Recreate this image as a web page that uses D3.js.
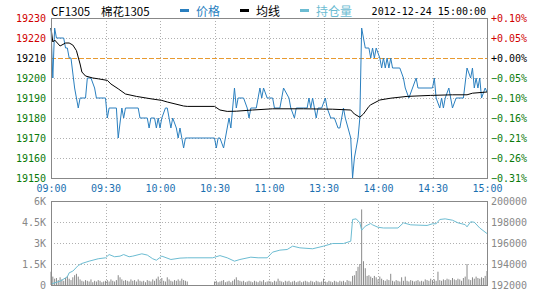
<!DOCTYPE html>
<html>
<head>
<meta charset="utf-8">
<script src="https://cdn.jsdelivr.net/npm/d3@7"></script>
<style>
  body { margin: 0; background: #fff; }
  text { font-family: "DejaVu Sans Mono", monospace; font-size: 10px; }
</style>
</head>
<body>
<svg id="chart" width="540" height="300"></svg>
<script>
// minutes since 09:00, trading time only (11:30 joins 13:30 at minute 150)
const timeTicks  = [0, 30, 60, 90, 120, 150, 180, 210, 240];
const timeLabels = ["09:00","09:30","10:00","10:30","11:00","13:30","14:00","14:30","15:00"];

const prevSettle = 19210;
const priceTicks = [19230, 19220, 19210, 19200, 19190, 19180, 19170, 19160, 19150];

// price series [minute, price]
const priceData = [
  [0,19225],[1,19200],[2,19225],[3,19220],[7,19220],[8,19215],[9,19215],[10,19210],[11,19210],
  [13,19195],[14,19190],[15,19185],[16,19190],[19,19190],[20,19200],[22,19200],[24,19195],[25,19190],
  [30,19190],[31,19180],[32,19185],[36,19185],[37,19170],[39,19185],[40,19180],[41,19185],[48,19185],
  [49,19180],[53,19180],[54,19175],[55,19180],[57,19180],[58,19175],[59,19180],[60,19175],[61,19180],
  [63,19185],[64,19185],[66,19175],[67,19180],[69,19175],[70,19170],[71,19175],[72,19170],[73,19165],
  [74,19170],[90,19170],[91,19165],[92,19170],[93,19170],[95,19165],[96,19170],[97,19175],[98,19180],
  [99,19175],[100,19185],[101,19195],[102,19185],[103,19190],[106,19190],[108,19185],[109,19180],
  [110,19185],[113,19185],[115,19195],[116,19190],[117,19195],[119,19190],[122,19190],[123,19185],
  [126,19185],[128,19195],[131,19190],[132,19185],[134,19180],[135,19185],[141,19185],[142,19190],
  [143,19185],[144,19190],[145,19185],[146,19180],[147,19185],[149,19185],[151,19190],[152,19185],
  [154,19180],[156,19180],[158,19175],[159,19175],[161,19185],[162,19180],[165,19170],[166,19150],
  [167,19160],[169,19170],[170,19180],[171,19225],[172,19220],[173,19215],[175,19215],[176,19210],
  [177,19215],[178,19210],[179,19215],[181,19210],[182,19205],[183,19210],[184,19205],[185,19210],
  [186,19205],[187,19210],[188,19205],[192,19205],[194,19200],[195,19195],[197,19190],[199,19195],
  [201,19200],[202,19195],[210,19195],[211,19200],[212,19190],[214,19185],[215,19190],[216,19185],
  [217,19190],[219,19195],[220,19190],[221,19185],[223,19190],[227,19190],[229,19205],[231,19200],
  [232,19205],[233,19195],[234,19200],[235,19195],[236,19200],[237,19190],[239,19195],[240,19193]
];

// average price [minute, price]
const avgData = [
  [0,19225],[1,19218],[2,19219],[5,19216],[8,19217.5],[10,19217.5],[12,19216.5],[14,19213.7],
  [16,19207],[17,19203],[19,19201],[23,19200],[26,19199.6],[31,19198.8],[33,19197],[37,19194.6],
  [41,19192],[47,19190.8],[55,19189.6],[61,19188.8],[64,19188],[73,19186],[75,19185.8],[90,19185.8],
  [93,19184],[97,19183.3],[102,19183.4],[111,19184],[122,19184.6],[139,19184.6],[155,19184.4],
  [165,19184],[167,19182],[170,19180.4],[172,19182],[175,19185.8],[176,19186.6],[181,19189],
  [187,19189.9],[196,19190.8],[209,19191.3],[221,19191.6],[229,19191.6],[232,19192.4],[240,19193]
];

// lower panel
const volTicks = [6000, 4500, 3000, 1500, 0];
const oiTicks  = [200000, 198000, 196000, 194000, 192000];

// volume per minute, index = minute
const volume = [
  950,600,450,500,350,550,400,300,500,650,
  450,350,550,700,800,600,400,300,250,350,
  300,250,400,200,300,250,350,300,200,250,
  300,350,250,400,300,250,350,700,550,400,
  300,350,300,250,400,300,350,250,400,300,
  250,300,200,350,300,250,400,300,450,600,
  350,500,300,250,550,400,300,250,350,300,
  400,300,450,350,300,250,0,0,0,0,
  0,0,0,0,0,0,0,0,0,0,
  250,300,200,250,300,350,200,250,300,200,
  300,400,550,350,300,250,300,200,250,300,
  250,200,300,250,200,300,250,350,200,250,
  300,250,200,300,250,450,300,250,200,300,
  250,300,200,250,300,200,250,300,200,250,
  300,250,200,300,250,200,300,250,200,250,
  450,250,200,300,250,200,300,250,200,300,
  250,300,200,350,300,250,650,700,1000,1300,
  1500,5400,1700,1200,650,700,600,500,650,550,
  400,600,450,350,300,400,350,800,300,250,
  350,300,250,550,300,600,300,250,350,300,
  250,300,350,250,300,250,400,350,300,450,
  350,400,300,950,350,300,400,350,450,400,
  350,500,400,350,450,400,300,500,600,1500,
  400,350,550,450,600,500,450,550,500,650,1000
];

// open interest [minute, contracts]
const oiData = [
  [0,192100],[5,192360],[9,192780],[10,193160],[12,193320],[15,193860],[17,194050],[21,194270],
  [26,194500],[30,194590],[32,194900],[35,194690],[38,194750],[40,194900],[43,194690],[45,194750],
  [50,194970],[53,194850],[56,194500],[58,194360],[61,194750],[66,194430],[71,194560],[75,194590],
  [89,194590],[93,194800],[97,194590],[101,194270],[104,194430],[110,194650],[114,194590],
  [119,194590],[122,195130],[126,195320],[130,195380],[133,195700],[137,195540],[144,195450],
  [150,195700],[155,195950],[161,195950],[165,196170],[166,198240],[168,198300],[170,197920],
  [171,197220],[173,197600],[176,197860],[177,197730],[180,197500],[183,197430],[191,197430],
  [194,197920],[198,197730],[207,197670],[210,197830],[212,197830],[214,198240],[217,198300],
  [221,198170],[224,197920],[228,197750],[229,197540],[231,198020],[233,197980],[236,197430],
  [240,196900]
];

const blue = "#2a7fbf", cyan = "#6cbcd2", red = "#d00000", green = "#0a7a0a", gray = "#888";

const svg = d3.select("#chart");
const left = 51, right = 487;

const x = d3.scaleLinear().domain([0, 240]).range([left, right]);
const yP = d3.scaleLinear().domain([19150, 19230]).range([178, 18]);
const yV = d3.scaleLinear().domain([0, 6000]).range([285, 201]);
const yO = d3.scaleLinear().domain([192000, 200000]).range([285, 201]);

const levelColor = p => p > prevSettle ? red : (p < prevSettle ? green : "#000");

// ---- header
const cjk = "'Noto Sans CJK SC', sans-serif";
svg.append("text").attr("x", 51).attr("y", 16)
  .style("font-family", cjk).style("font-size", "11.5px").text("CF1305");
svg.append("text").attr("x", 101).attr("y", 16)
  .style("font-family", cjk).style("font-size", "11.5px").text("棉花1305");

const legend = [
  { label: "价格", color: blue, x: 180 },
  { label: "均线", color: "#000", x: 240 },
  { label: "持仓量", color: cyan, x: 300 }
];
legend.forEach(l => {
  svg.append("rect").attr("x", l.x).attr("y", 9).attr("width", 9).attr("height", 3).attr("fill", l.color);
  svg.append("text").attr("x", l.x + 16).attr("y", 16)
    .style("font-family", cjk).style("font-size", "12px")
    .attr("fill", l.color).text(l.label);
});
svg.append("text").attr("x", 486).attr("y", 15).attr("text-anchor", "end")
  .text("2012-12-24 15:00:00");

// ---- grids
function grid(g, yScale, ticks, top, bottom, skip) {
  g.selectAll(".hg").data(ticks.filter(t => t !== skip)).enter().append("line")
    .attr("x1", left).attr("x2", right)
    .attr("y1", d => yScale(d) + 0.5).attr("y2", d => yScale(d) + 0.5)
    .attr("stroke", "#b0b0b0").attr("stroke-dasharray", "1,2");
  g.selectAll(".vg").data(timeTicks.slice(1, -1)).enter().append("line")
    .attr("x1", d => Math.round(x(d)) + 0.5).attr("x2", d => Math.round(x(d)) + 0.5)
    .attr("y1", top).attr("y2", bottom)
    .attr("stroke", "#b0b0b0").attr("stroke-dasharray", "1,2");
}
grid(svg.append("g"), yP, priceTicks.slice(1, -1), 18, 178, prevSettle);
grid(svg.append("g"), yV, volTicks.slice(1, -1), 201, 285, null);

svg.append("line").attr("x1", left).attr("x2", right)
  .attr("y1", yP(prevSettle) + 0.5).attr("y2", yP(prevSettle) + 0.5)
  .attr("stroke", "#e89a30").attr("stroke-dasharray", "5,2");

// ---- price axes
const pctFmt = d3.format("+.2f");
const axL = svg.append("g").attr("transform", `translate(${left},0)`)
  .call(d3.axisLeft(yP).tickValues(priceTicks).tickSize(0).tickPadding(5).tickFormat(d3.format("d")));
axL.select(".domain").remove();
axL.selectAll("text").attr("fill", levelColor).style("font-size", "10px");

const axR = svg.append("g").attr("transform", `translate(${right},0)`)
  .call(d3.axisRight(yP).tickValues(priceTicks).tickSize(0).tickPadding(4)
    .tickFormat(d => pctFmt((d - prevSettle) / prevSettle * 100) + "%"));
axR.select(".domain").remove();
axR.selectAll("text").attr("fill", levelColor).style("font-size", "10px");

// ---- time axis
const axT = svg.append("g").attr("transform", "translate(0,178)")
  .call(d3.axisBottom(x).tickValues(timeTicks).tickSize(0).tickPadding(7)
    .tickFormat((d, i) => timeLabels[i]));
axT.select(".domain").remove();
axT.selectAll("text").attr("fill", "#1a6fb0").style("font-size", "10px");

// ---- lower axes
const axV = svg.append("g").attr("transform", `translate(${left},0)`)
  .call(d3.axisLeft(yV).tickValues(volTicks).tickSize(0).tickPadding(5)
    .tickFormat(d => d === 0 ? "0" : (d / 1000) + "K"));
axV.select(".domain").remove();
axV.selectAll("text").attr("fill", gray).style("font-size", "10px");

const axO = svg.append("g").attr("transform", `translate(${right},0)`)
  .call(d3.axisRight(yO).tickValues(oiTicks).tickSize(0).tickPadding(4).tickFormat(d3.format("d")));
axO.select(".domain").remove();
axO.selectAll("text").attr("fill", gray).style("font-size", "10px");

// ---- volume bars
svg.append("g").selectAll("rect").data(volume.map((v, i) => [i, v]).filter(d => d[1] > 0))
  .enter().append("rect")
  .attr("x", d => x(d[0]) - 0.5).attr("width", 1)
  .attr("y", d => yV(d[1])).attr("height", d => yV(0) - yV(d[1]))
  .attr("fill", "#8a8a8a");

// ---- lines
const line = (ys) => d3.line().x(d => x(d[0])).y(d => ys(d[1]));

svg.append("path").datum(oiData).attr("d", line(yO))
  .attr("fill", "none").attr("stroke", cyan).attr("stroke-width", 1);
svg.append("path").datum(priceData).attr("d", line(yP))
  .attr("fill", "none").attr("stroke", blue).attr("stroke-width", 1);
svg.append("path").datum(avgData).attr("d", line(yP))
  .attr("fill", "none").attr("stroke", "#000").attr("stroke-width", 1);

// ---- frames
svg.append("rect").attr("x", left + 0.5).attr("y", 18.5).attr("width", right - left).attr("height", 160)
  .attr("fill", "none").attr("stroke", gray);
svg.append("rect").attr("x", left + 0.5).attr("y", 201.5).attr("width", right - left).attr("height", 84)
  .attr("fill", "none").attr("stroke", gray);
</script>
</body>
</html>
